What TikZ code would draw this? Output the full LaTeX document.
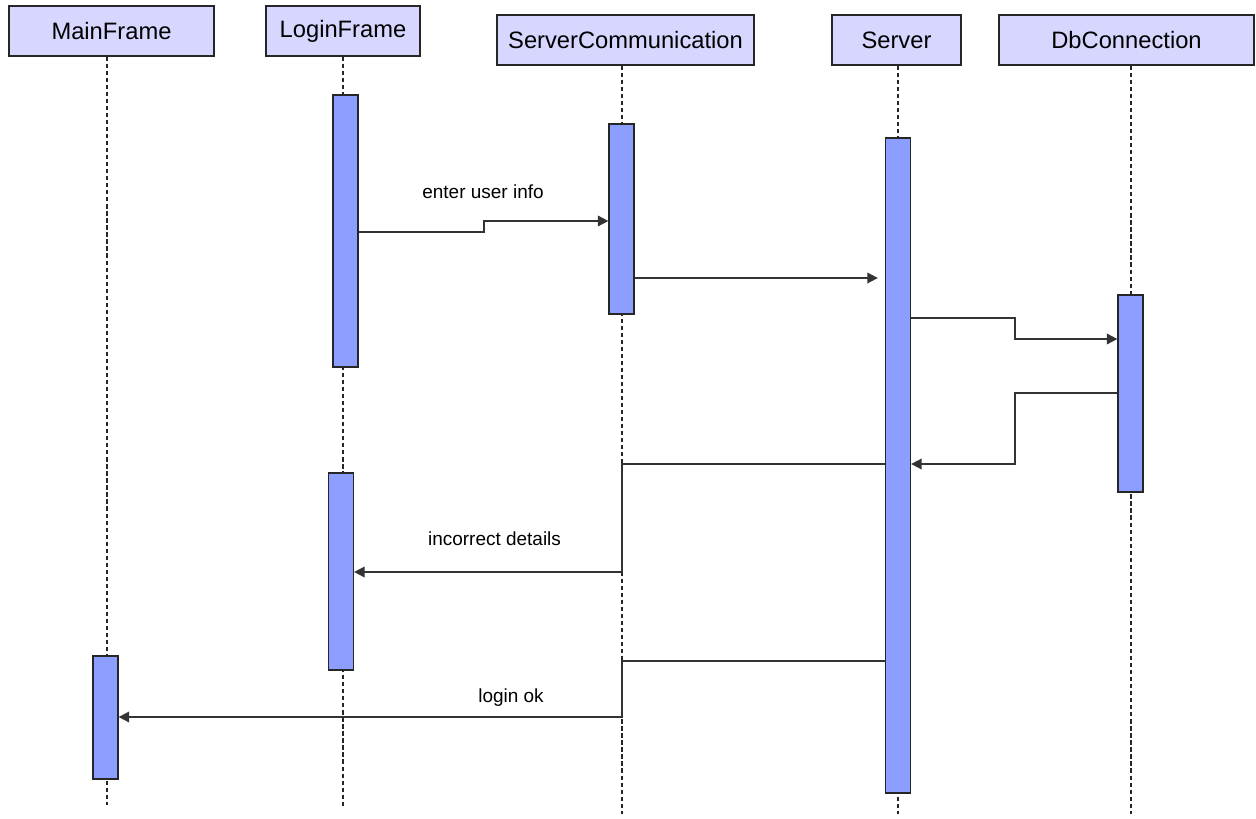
\documentclass[tikz,border=0pt]{standalone}
\usepackage{fontspec}
\setmainfont{Liberation Sans}
\usetikzlibrary{arrows.meta}
\definecolor{headfill}{HTML}{D6D6FF}
\definecolor{barfill}{HTML}{8C9EFF}

\begin{document}
\begin{tikzpicture}[x=0.02cm, y=-0.02cm, head/.style={rectangle,draw=black!85,fill=headfill,line width=0.8pt,minimum height=1cm,inner sep=0pt,font=\fontsize{13.5}{16}\selectfont}, bar/.style={rectangle,draw=black!85,fill=barfill,line width=0.7pt,minimum width=0.5cm,inner sep=0pt}, lifeline/.style={draw=black!85,line width=0.7pt,dash pattern=on 2.4pt off 1.6pt}, msg/.style={draw=black!80,line width=1pt,-{Triangle[length=6pt,width=6pt]}}, lbl/.style={font=\fontsize{10.8}{13}\selectfont}]
\useasboundingbox (0,0) rectangle (1256,818);
\node[head,minimum width=4.1cm] (mf) at (111.5,31) {MainFrame};
\node[head,minimum width=3.08cm] (lf) at (343,31) {LoginFrame};
\node[head,minimum width=5.14cm] (sc) at (625.5,40) {ServerCommunication};
\node[head,minimum width=2.58cm] (sv) at (896.5,40) {Server};
\node[head,minimum width=5.1cm] (db) at (1126.5,40) {DbConnection};
\coordinate (mfEnd) at (107,805);
\coordinate (lfEnd) at (343,808);
\coordinate (scEnd) at (622,814);
\coordinate (svEnd) at (898,814);
\coordinate (dbEnd) at (1131,814);
\draw[lifeline] (mf.south -| mfEnd) -- (mfEnd);
\draw[lifeline] (lf.south -| lfEnd) -- (lfEnd);
\draw[lifeline] (sc.south -| scEnd) -- (scEnd);
\draw[lifeline] (sv.south -| svEnd) -- (svEnd);
\draw[lifeline] (db.south -| dbEnd) -- (dbEnd);
\node[bar,minimum height=5.44cm] (lfBarA) at (345.5,231) {};
\node[bar,minimum height=3.94cm] (lfBarB) at (341,571.5) {};
\node[bar,minimum height=3.8cm] (scBar) at (621.5,219) {};
\node[bar,minimum height=13.1cm] (svBar) at (898,465.5) {};
\node[bar,minimum height=3.94cm] (dbBar) at (1130.5,393.5) {};
\node[bar,minimum height=2.46cm] (mfBar) at (105.5,717.5) {};
\draw[msg] (lfBarA.east |- 0,232) -- (484,232) |- (scBar.west |- 0,221);
\draw[msg,shorten >=4pt] (scBar.east |- 0,278) -- (svBar.west |- 0,278);
\draw[msg] (svBar.east |- 0,318) -- (1015,318) |- (dbBar.west |- 0,339);
\draw[msg] (dbBar.west |- 0,393) -- (1015,393) |- (svBar.east |- 0,464);
\draw[msg] (svBar.west |- 0,464) -| (scEnd |- 0,572) -- (lfBarB.east |- 0,572);
\draw[msg] (svBar.west |- 0,661) -| (scEnd |- 0,717) -- (mfBar.east |- 0,717);
\node[lbl] (enterInfo) at (483,192) {enter user info};
\node[lbl] (wrongInfo) at (494.5,539) {incorrect details};
\node[lbl] (loginOk) at (511,698) {login ok};
\end{tikzpicture}
\end{document}
